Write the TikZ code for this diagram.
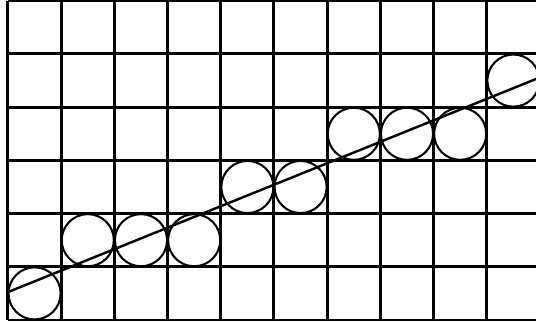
\documentclass[tikz,border=0pt]{standalone}
\begin{document}
\begin{tikzpicture}[x=1cm,y=1cm,
  gridline/.style={line width=1.6pt, black},
  cell/.style={circle, draw, line width=1.1pt, minimum size=0.98cm, inner sep=0pt},
  ray/.style={line width=1.3pt, black}]
\useasboundingbox (-0.150,-0.019) rectangle (9.925,6.015);
\clip (-0.150,-0.019) rectangle (9.925,6.015);
\fill[white] (-0.150,-0.019) rectangle (9.925,6.015);
\draw[gridline] (0,0) grid (10,6);
\foreach \i/\r [count=\k] in {0/0,1/1,2/1,3/1,4/2,5/2,6/3,7/3,8/3,9/4}
  \node[cell] (c\k) at (\i+0.5,\r+0.5) {};
\coordinate (s) at (0,0.525);
\coordinate (e) at (10,4.56);
\draw[ray] (s) -- (e);
\end{tikzpicture}
\end{document}
